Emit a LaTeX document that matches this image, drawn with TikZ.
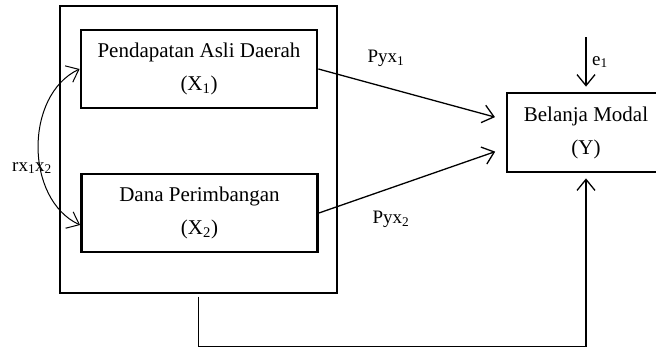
\documentclass[tikz,border=0pt]{standalone}
\usepackage{fontspec}
\setmainfont{Liberation Serif}
\usetikzlibrary{
  arrows.meta,
  positioning
}
\newcommand{\boxfont}{\fontsize{21}{33}\selectfont}
\newcommand{\lblfont}{\fontsize{19}{22}\selectfont}
\tikzset{
  outerbox/.style={draw,line width=1.3pt,minimum width=277pt,minimum height=287pt},
  varbox/.style={draw,line width=2.8pt,minimum height=78pt,minimum width=236pt,align=center,font=\boxfont},
  pathlbl/.style={font=\lblfont,inner sep=0pt},
  patharrow/.style={-{Straight Barb[length=11pt,width=18pt]},line width=1.3pt},
  corrarrow/.style={{Straight Barb[length=11pt,width=18pt]}-{Straight Barb[length=11pt,width=18pt]},line width=1pt}
}
\begin{document}
\begin{tikzpicture}[x=1pt,y=-1pt]
\clip (0,0) rectangle (656,349);
\node[outerbox] (outer) at (198.5,149.5) {};
\node[varbox] (x1) at (199,69) {Pendapatan Asli Daerah\\(X\textsubscript{1})};
\node[varbox] (x2) at (199.5,213) {Dana Perimbangan\\(X\textsubscript{2})};
\node[varbox,minimum width=158pt,minimum height=79pt] (y) at (586,132.5) {Belanja Modal\\(Y)};

\node[pathlbl] (p1) at (386,58) {Pyx\textsubscript{1}};
\node[pathlbl] (p2) at (391,219) {Pyx\textsubscript{2}};
\node[pathlbl] (e1) at (600,62) {e\textsubscript{1}};
\node[pathlbl] (r12) at (32,168) {rx\textsubscript{1}x\textsubscript{2}};
\coordinate (etop) at (586,37);

\draw[patharrow,shorten >=11pt] (x1.east) -- ([yshift=12.5pt]y.west);
\draw[patharrow,shorten >=11pt] (x2.east) -- ([yshift=-15.5pt]y.west);
\draw[patharrow,shorten >=5pt] (etop) -- (y.north);
\draw[patharrow,shorten >=5pt] ([yshift=-3pt]outer.south) -- ++(0,49.5) -| (y.south);
\draw[corrarrow] (x1.west) to[bend right=65] ([yshift=-12pt]x2.west);
\end{tikzpicture}
\end{document}
